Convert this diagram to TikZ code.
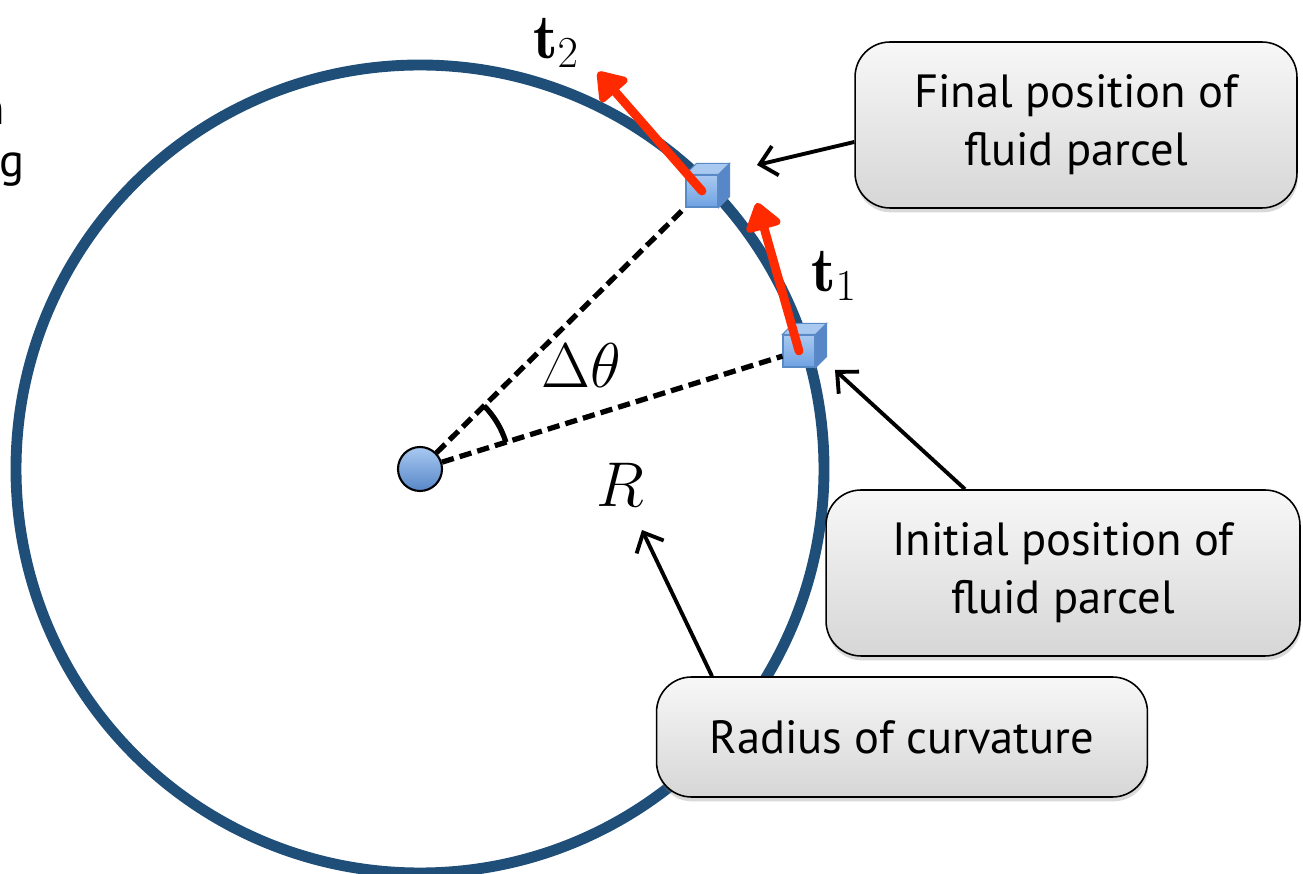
\RequirePackage{fix-cm}
\documentclass[tikz,border=0pt]{standalone}
\usepackage{fontspec}
\usepackage{amsmath}
\usetikzlibrary{arrows.meta,positioning,calc,shadows}
\newfontfamily\labelfont{PT Sans}
\definecolor{RingBlue}{HTML}{1F4E79}
\definecolor{TangentRed}{HTML}{FF2A00}
\definecolor{ParcelBlue}{HTML}{6FA2E2}
\definecolor{ParcelEdge}{HTML}{5A8AC6}
\definecolor{ParcelTop}{HTML}{A9C9F1}
\definecolor{ParcelSide}{HTML}{5787C8}
\newcommand{\parcelfaces}[1]{%
  \filldraw[draw=ParcelEdge, fill=ParcelTop, line width=0.6pt]
    (#1.north west) -- ([shift={(11,-11)}]#1.north west) -- ([shift={(11,-11)}]#1.north east) -- (#1.north east) -- cycle;
  \filldraw[draw=ParcelEdge, fill=ParcelSide, line width=0.6pt]
    (#1.north east) -- ([shift={(11,-11)}]#1.north east) -- ([shift={(11,-11)}]#1.south east) -- (#1.south east) -- cycle;}

\begin{document}
\begin{tikzpicture}[
    x=0.02cm, y=-0.02cm,
    callout/.style={draw=black, line width=0.9pt, rounded corners=0.7cm, top color=gray!6, bottom color=gray!32, drop shadow={opacity=0.3, shadow xshift=0.5pt, shadow yshift=-2.5pt}, align=center, font=\labelfont\fontsize{26.5}{33}\selectfont},
    parcel/.style={draw=ParcelEdge, line width=0.6pt, top color=ParcelTop, bottom color=ParcelBlue, minimum size=0.64cm, inner sep=0pt},
    pointer/.style={-{Straight Barb[length=3.2mm,width=6mm]}, line width=2.2pt},
    tangent/.style={-{Triangle[length=6mm,width=8mm,round]}, line width=5pt, draw=TangentRed, line cap=round},
    radial/.style={line width=3pt, dash pattern=on 7pt off 3.5pt},
    mathlabel/.style={font=\fontsize{36}{42}\selectfont, inner sep=0pt}
  ]
  \useasboundingbox (0,0) rectangle (1303,874);
  \draw[RingBlue, line width=6.2pt] (420,469) circle[radius=404];
  \node[anchor=base east, inner sep=0pt, font=\labelfont\fontsize{26.5}{33}\selectfont] (cutn) at (5,125) {n};
  \node[anchor=base east, inner sep=0pt, font=\labelfont\fontsize{26.5}{33}\selectfont] (cutg) at (25,177) {g};
  \node[circle, draw, line width=1.2pt, top color=ParcelTop, bottom color=ParcelSide, minimum size=0.88cm] (c) at (420,469) {};
  \node[parcel] (p1) at (799,351) {};
  \node[parcel] (p2) at (702,191) {};
  \parcelfaces{p1}
  \parcelfaces{p2}
  \draw[radial] (c) -- (p1);
  \draw[radial] (c) -- (p2);
  \draw[line width=3pt] ([shift={(-17.3:90)}]c.center) arc[start angle=-17.3, end angle=-44.6, radius=90];
  \coordinate (t1tip) at (757,203);
  \coordinate (t2tip) at (598,72);
  \draw[tangent] (p1.center) -- (t1tip);
  \draw[tangent] (p2.center) -- (t2tip);
  \node[mathlabel] (t2lab) at (556,43) {$\mathbf{t}_2$};
  \node[mathlabel] (t1lab) at (834,276) {$\mathbf{t}_1$};
  \node[mathlabel] (dlab) at (581,366) {$\Delta\theta$};
  \node[mathlabel] (rlab) at (620,485) {$R$};
  \node[callout, minimum width=8.84cm, minimum height=3.32cm] (fbox) at (1076,125) {Final position of\\fluid parcel};
  \node[callout, minimum width=9.48cm, minimum height=3.32cm] (ibox) at (1063,573) {Initial position of\\fluid parcel};
  \node[callout, minimum width=9.82cm, minimum height=2.4cm] (rbox) at (902,737) {Radius of curvature};
  \draw[pointer] ([yshift=-0.34cm]fbox.west) -- ([shift={(55,-26)}]p2.center);
  \draw[pointer] ([xshift=-1.96cm]ibox.north) -- ([shift={(36,19)}]p1.center);
  \draw[pointer] ([xshift=-3.8cm]rbox.north) -- ([shift={(22,45)}]rlab.center);
\end{tikzpicture}
\end{document}
